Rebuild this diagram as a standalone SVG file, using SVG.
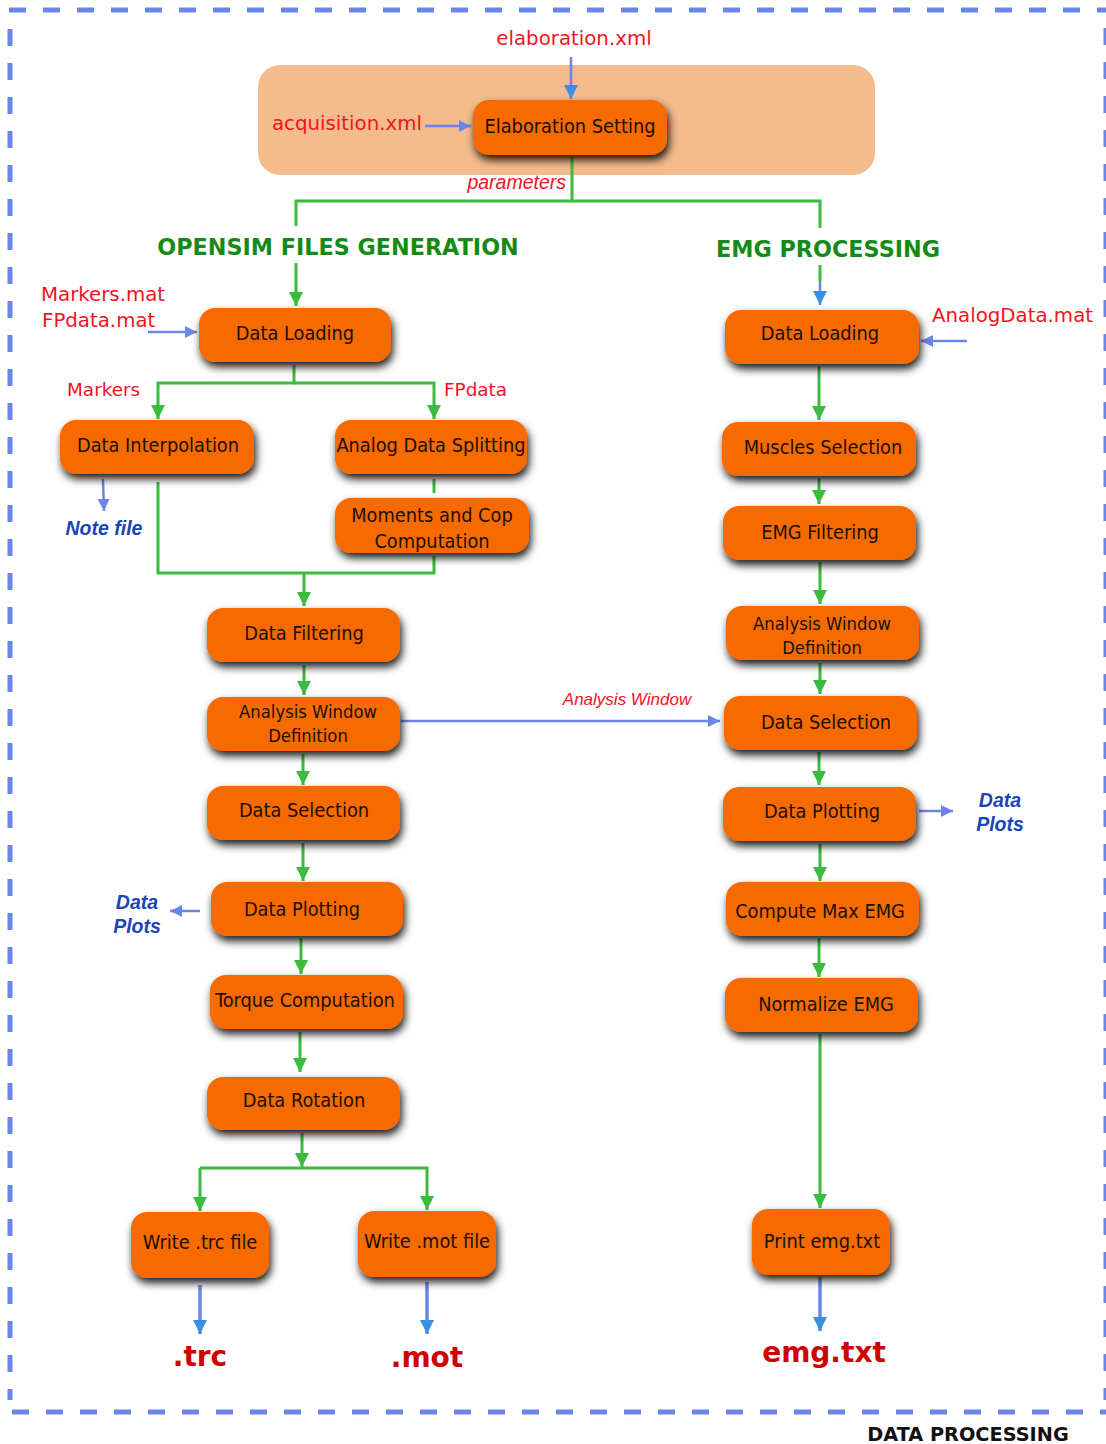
<svg xmlns="http://www.w3.org/2000/svg" width="1106" height="1444" viewBox="0 0 1106 1444">
<defs>
<filter id="sh" x="-20%" y="-30%" width="150%" height="190%">
<feDropShadow dx="2" dy="5" stdDeviation="4" flood-color="#000" flood-opacity="0.9"/>
</filter>
<marker id="ag" markerUnits="userSpaceOnUse" markerWidth="16" markerHeight="16" refX="14" refY="7" orient="auto">
<path d="M0,0 L14,7 L0,14 Z" fill="#3bbb3f"/>
</marker>
<marker id="ab" markerUnits="userSpaceOnUse" markerWidth="14" markerHeight="14" refX="12" refY="6" orient="auto">
<path d="M0,0 L12,6 L0,12 Z" fill="#6a86e8"/>
</marker>
<marker id="ad" markerUnits="userSpaceOnUse" markerWidth="16" markerHeight="16" refX="14" refY="7" orient="auto">
<path d="M0,0 L14,7 L0,14 Z" fill="#3a8fe0"/>
</marker>
</defs>
<style>
.node rect{fill:#f76a00;filter:url(#sh)}
.node text{font-family:"DejaVu Sans Condensed","DejaVu Sans",sans-serif;font-size:19.8px;fill:#1a1000;text-anchor:middle}
.node text.s{font-size:18.3px}
.g{stroke:#3bbb3f;stroke-width:3;fill:none}
.b{stroke:#6a86e8;stroke-width:2.5;fill:none}
.b3{stroke:#6a86e8;stroke-width:3.5;fill:none}
.red{font-family:"DejaVu Sans",sans-serif;font-size:19.8px;fill:#f0141e}
.red.sm{font-size:18.4px}
.ital{font-family:"Liberation Sans",Arial,sans-serif;font-style:italic;fill:#f0141e}
.bl{font-family:"Liberation Sans",Arial,sans-serif;font-style:italic;font-weight:bold;font-size:19.5px;fill:#1a44b8}
.out{font-family:"DejaVu Sans",sans-serif;font-weight:bold;font-size:28px;fill:#d00000}
.hd{font-family:"DejaVu Sans",sans-serif;font-weight:bold;font-size:22.3px;fill:#158a15}
.border{stroke:#6a86e8;stroke-width:5;fill:none;stroke-dasharray:17 17}
</style>
<rect width="1106" height="1444" fill="#fff"/>
<g id="frame">
<line class="border" x1="9" y1="10" x2="1106" y2="10"/>
<line class="border" x1="10" y1="29" x2="10" y2="1400"/>
<line class="border" x1="12" y1="1412" x2="1106" y2="1412"/>
<line class="border" x1="1106" y1="28" x2="1106" y2="1400"/>
<text x="968" y="1441" font-family="DejaVu Sans,sans-serif" font-weight="bold" font-size="19.3" text-anchor="middle" fill="#111">DATA PROCESSING</text>
</g>
<rect id="setting-area" x="258" y="65" width="617" height="110" rx="22" fill="#f4bb8c"/>
<g id="connectors">
<line class="b" x1="571" y1="57" x2="571" y2="99" marker-end="url(#ad)"/>
<line class="b" x1="425" y1="126" x2="471" y2="126" marker-end="url(#ab)"/>
<polyline class="g" points="572,157 572,201 296,201 296,226"/>
<line class="g" x1="296" y1="263" x2="296" y2="306" marker-end="url(#ag)"/>
<polyline class="g" points="572,201 820,201 820,228"/>
<line class="g" x1="820" y1="265" x2="820" y2="282"/>
<line class="b" x1="820" y1="282" x2="820" y2="305" stroke="#3bbb3f" stroke-width="3" marker-end="url(#ad)"/>
<line class="b" x1="148" y1="332" x2="197" y2="332" marker-end="url(#ab)"/>
<line class="b" x1="967" y1="341" x2="921" y2="341" marker-end="url(#ab)"/>
<polyline class="g" points="294,365 294,383 158,383 158,419" marker-end="url(#ag)"/>
<polyline class="g" points="294,383 434,383 434,419" marker-end="url(#ag)"/>
<line class="b" x1="103" y1="479" x2="104" y2="511" marker-end="url(#ab)"/>
<line class="g" x1="434" y1="479" x2="434" y2="493"/>
<polyline class="g" points="158,482 158,573 434,573 434,556"/>
<line class="g" x1="304" y1="573" x2="304" y2="606" marker-end="url(#ag)"/>
<line class="g" x1="304" y1="665" x2="304" y2="695" marker-end="url(#ag)"/>
<line class="b" x1="401" y1="721" x2="720" y2="721" marker-end="url(#ab)"/>
<line class="g" x1="303" y1="754" x2="303" y2="785" marker-end="url(#ag)"/>
<line class="g" x1="303" y1="843" x2="303" y2="881" marker-end="url(#ag)"/>
<line class="b" x1="200" y1="911" x2="170" y2="911" marker-end="url(#ab)"/>
<line class="g" x1="301" y1="938" x2="301" y2="974" marker-end="url(#ag)"/>
<line class="g" x1="300" y1="1032" x2="300" y2="1072" marker-end="url(#ag)"/>
<line class="g" x1="302" y1="1133" x2="302" y2="1167" marker-end="url(#ag)"/>
<polyline class="g" points="200,1168 427,1168 427,1210" marker-end="url(#ag)"/>
<line class="g" x1="200" y1="1168" x2="200" y2="1211" marker-end="url(#ag)"/>
<line class="b3" x1="200" y1="1285" x2="200" y2="1334" marker-end="url(#ad)"/>
<line class="b3" x1="427" y1="1282" x2="427" y2="1334" marker-end="url(#ad)"/>
<line class="g" x1="819" y1="366" x2="819" y2="420" marker-end="url(#ag)"/>
<line class="g" x1="819" y1="478" x2="819" y2="504" marker-end="url(#ag)"/>
<line class="g" x1="820" y1="562" x2="820" y2="604" marker-end="url(#ag)"/>
<line class="g" x1="820" y1="663" x2="820" y2="694" marker-end="url(#ag)"/>
<line class="g" x1="819" y1="752" x2="819" y2="785" marker-end="url(#ag)"/>
<line class="b" x1="919" y1="811" x2="953" y2="811" marker-end="url(#ab)"/>
<line class="g" x1="820" y1="844" x2="820" y2="881" marker-end="url(#ag)"/>
<line class="g" x1="819" y1="938" x2="819" y2="977" marker-end="url(#ag)"/>
<line class="g" x1="820" y1="1034" x2="820" y2="1208" marker-end="url(#ag)"/>
<line class="b3" x1="820" y1="1277" x2="820" y2="1331" marker-end="url(#ad)"/>
</g>
<g id="labels">
<text class="red" x="574" y="45" text-anchor="middle">elaboration.xml</text>
<text class="red" x="347" y="130" text-anchor="middle">acquisition.xml</text>
<text class="ital" x="566" y="189" font-size="19.5" text-anchor="end">parameters</text>
<text class="hd" x="338" y="255" text-anchor="middle">OPENSIM FILES GENERATION</text>
<text class="hd" x="828" y="257" text-anchor="middle">EMG PROCESSING</text>
<text class="red" x="41" y="301">Markers.mat</text>
<text class="red" x="42" y="327">FPdata.mat</text>
<text class="red" x="932" y="322">AnalogData.mat</text>
<text class="red sm" x="67" y="396">Markers</text>
<text class="red sm" x="444" y="396">FPdata</text>
<text class="bl" x="104" y="535" text-anchor="middle">Note file</text>
<text class="ital" x="627" y="705" font-size="17" text-anchor="middle">Analysis Window</text>
<text class="bl" x="137" y="909" text-anchor="middle">Data</text>
<text class="bl" x="137" y="933" text-anchor="middle">Plots</text>
<text class="bl" x="1000" y="807" text-anchor="middle">Data</text>
<text class="bl" x="1000" y="831" text-anchor="middle">Plots</text>
<text class="out" x="200" y="1366" text-anchor="middle">.trc</text>
<text class="out" x="427" y="1367" text-anchor="middle">.mot</text>
<text class="out" x="824" y="1362" text-anchor="middle" font-size="27">emg.txt</text>
</g>
<g id="n-elab" class="node"><rect x="473" y="100" width="194" height="55" rx="16"/><text x="570" y="133">Elaboration Setting</text></g>
<g id="n-load-l" class="node"><rect x="199" y="308" width="192" height="54" rx="16"/><text x="295" y="340">Data Loading</text></g>
<g id="n-interp" class="node"><rect x="60" y="420" width="194" height="54" rx="16"/><text x="158" y="452">Data Interpolation</text></g>
<g id="n-split" class="node"><rect x="335" y="420" width="192" height="54" rx="16"/><text x="431" y="452">Analog Data Splitting</text></g>
<g id="n-moments" class="node"><rect x="335" y="498" width="194" height="55" rx="16"/><text x="432" y="522">Moments and Cop</text><text x="432" y="548">Computation</text></g>
<g id="n-filter-l" class="node"><rect x="207" y="608" width="193" height="54" rx="16"/><text x="304" y="640">Data Filtering</text></g>
<g id="n-awd-l" class="node"><rect x="207" y="697" width="193" height="54" rx="16"/><text class="s" x="308" y="718">Analysis Window</text><text class="s" x="308" y="742">Definition</text></g>
<g id="n-sel-l" class="node"><rect x="207" y="786" width="193" height="54" rx="16"/><text x="304" y="817">Data Selection</text></g>
<g id="n-plot-l" class="node"><rect x="211" y="882" width="192" height="54" rx="16"/><text x="302" y="916">Data Plotting</text></g>
<g id="n-torque" class="node"><rect x="210" y="975" width="193" height="54" rx="16"/><text x="305" y="1007">Torque Computation</text></g>
<g id="n-rot" class="node"><rect x="207" y="1077" width="193" height="53" rx="16"/><text x="304" y="1107">Data Rotation</text></g>
<g id="n-trc" class="node"><rect x="131" y="1212" width="138" height="66" rx="16"/><text x="200" y="1249">Write .trc file</text></g>
<g id="n-mot" class="node"><rect x="358" y="1211" width="138" height="66" rx="16"/><text x="427" y="1248">Write .mot file</text></g>
<g id="n-load-r" class="node"><rect x="725" y="310" width="194" height="54" rx="16"/><text x="820" y="340">Data Loading</text></g>
<g id="n-muscles" class="node"><rect x="722" y="422" width="194" height="54" rx="16"/><text x="823" y="454">Muscles Selection</text></g>
<g id="n-emgf" class="node"><rect x="723" y="506" width="193" height="54" rx="16"/><text x="820" y="539">EMG Filtering</text></g>
<g id="n-awd-r" class="node"><rect x="726" y="606" width="193" height="54" rx="16"/><text class="s" x="822" y="630">Analysis Window</text><text class="s" x="822" y="654">Definition</text></g>
<g id="n-sel-r" class="node"><rect x="724" y="696" width="193" height="54" rx="16"/><text x="826" y="729">Data Selection</text></g>
<g id="n-plot-r" class="node"><rect x="723" y="787" width="193" height="54" rx="16"/><text x="822" y="818">Data Plotting</text></g>
<g id="n-max" class="node"><rect x="726" y="882" width="193" height="54" rx="16"/><text x="820" y="918">Compute Max EMG</text></g>
<g id="n-norm" class="node"><rect x="725" y="978" width="193" height="54" rx="16"/><text x="826" y="1011">Normalize EMG</text></g>
<g id="n-print" class="node"><rect x="752" y="1209" width="138" height="66" rx="16"/><text x="822" y="1248">Print emg.txt</text></g>
</svg>
